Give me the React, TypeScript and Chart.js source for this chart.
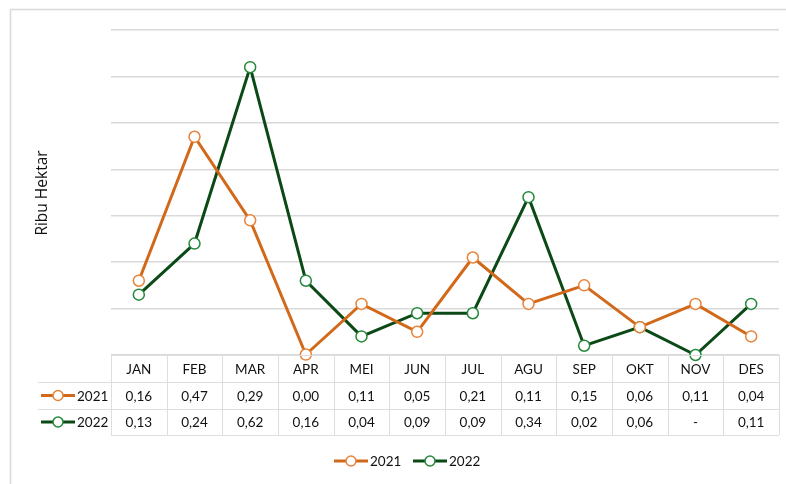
import React, { useEffect, useRef } from "react";
import { Chart, registerables } from "chart.js";

Chart.register(...registerables);

const months = ["JAN", "FEB", "MAR", "APR", "MEI", "JUN", "JUL", "AGU", "SEP", "OKT", "NOV", "DES"];
const series2021 = [0.16, 0.47, 0.29, 0.001, 0.11, 0.05, 0.21, 0.11, 0.15, 0.06, 0.11, 0.04];
const series2022 = [0.13, 0.24, 0.62, 0.16, 0.04, 0.09, 0.09, 0.34, 0.02, 0.06, 0, 0.11];
const seriesNames = ["2021", "2022"];
const yTitle = "Ribu Hektar";

const ORANGE = "#D2691A";
const ORANGE_MK = "#E8833A";
const GREEN = "#0B4A16";
const GREEN_MK = "#23893A";
const FONT = "Lato, 'Open Sans', sans-serif";

const fmt = (v: number) => (v === 0 ? "-" : v.toFixed(2).replace(".", ","));

const drawLegendKey = (ctx: CanvasRenderingContext2D, x0: number, x1: number, y: number, line: string, mk: string) => {
  ctx.save();
  ctx.strokeStyle = line;
  ctx.lineWidth = 3;
  ctx.beginPath();
  ctx.moveTo(x0, y);
  ctx.lineTo(x1, y);
  ctx.stroke();
  ctx.beginPath();
  ctx.arc((x0 + x1) / 2, y, 5, 0, Math.PI * 2);
  ctx.fillStyle = "#fff";
  ctx.fill();
  ctx.lineWidth = 1.5;
  ctx.strokeStyle = mk;
  ctx.stroke();
  ctx.restore();
};

const tablePlugin = {
  id: "tablePlugin",
  afterDraw(chart: any) {
    const ctx: CanvasRenderingContext2D = chart.ctx;
    const xs = chart.scales.x;
    const area = chart.chartArea;
    const left = area.left;
    const right = area.right;
    const top = area.bottom;
    const r1 = top + 27;
    const r2 = top + 54;
    const bottom = top + 80;
    const legLeft = 38;

    ctx.save();
    // outer frame
    ctx.strokeStyle = "#d9d9d9";
    ctx.lineWidth = 1.5;
    ctx.beginPath();
    ctx.moveTo(10.5, 490);
    ctx.lineTo(10.5, 9.5);
    ctx.lineTo(790, 9.5);
    ctx.stroke();

    // table lines
    ctx.strokeStyle = "#dedede";
    ctx.lineWidth = 1;
    ctx.beginPath();
    ctx.moveTo(left, top + 0.5);
    ctx.lineTo(right, top + 0.5);
    ctx.moveTo(legLeft, r1 + 0.5);
    ctx.lineTo(right, r1 + 0.5);
    ctx.moveTo(legLeft, r2 + 0.5);
    ctx.lineTo(right, r2 + 0.5);
    ctx.moveTo(left, bottom + 0.5);
    ctx.lineTo(right, bottom + 0.5);
    const step = (right - left) / months.length;
    for (let i = 0; i <= months.length; i++) {
      const x = Math.round(left + i * step) + 0.5;
      ctx.moveTo(x, top);
      ctx.lineTo(x, bottom);
    }
    ctx.stroke();

    ctx.fillStyle = "#111";
    ctx.font = "13.5px " + FONT;
    ctx.textAlign = "center";
    ctx.textBaseline = "middle";
    months.forEach((m, i) => {
      const x = xs.getPixelForValue(i);
      ctx.fillText(m, x, (top + r1) / 2 + 1);
      ctx.fillText(fmt(series2021[i]), x, (r1 + r2) / 2 + 1);
      ctx.fillText(fmt(series2022[i]), x, (r2 + bottom) / 2 + 1);
    });

    // row legends
    drawLegendKey(ctx, 41, 75, (r1 + r2) / 2, ORANGE, ORANGE_MK);
    drawLegendKey(ctx, 41, 75, (r2 + bottom) / 2, GREEN, GREEN_MK);
    ctx.fillStyle = "#111";
    ctx.textAlign = "left";
    ctx.fillText(seriesNames[0], 77, (r1 + r2) / 2 + 1);
    ctx.fillText(seriesNames[1], 77, (r2 + bottom) / 2 + 1);

    // bottom legend
    const ly = 461;
    drawLegendKey(ctx, 334, 368, ly, ORANGE, ORANGE_MK);
    ctx.fillStyle = "#111";
    ctx.fillText(seriesNames[0], 370, ly + 1);
    drawLegendKey(ctx, 413, 447, ly, GREEN, GREEN_MK);
    ctx.fillStyle = "#111";
    ctx.fillText(seriesNames[1], 449, ly + 1);

    // y title
    ctx.save();
    ctx.translate(43, 193);
    ctx.rotate(-Math.PI / 2);
    ctx.textAlign = "center";
    ctx.font = "15.5px 'Open Sans', sans-serif";
    ctx.fillStyle = "#111";
    ctx.fillText(yTitle, 0, 0);
    ctx.restore();

    ctx.restore();
  },
};

export default function App() {
  const ref = useRef<HTMLCanvasElement>(null);
  useEffect(() => {
    if (!ref.current) return;
    const chart = new Chart(ref.current, {
      type: "line",
      data: {
        labels: months,
        datasets: [
          {
            label: seriesNames[0],
            data: series2021,
            borderColor: ORANGE,
            borderWidth: 3,
            pointRadius: 5.5,
            pointBackgroundColor: "#fff",
            pointBorderColor: ORANGE_MK,
            pointBorderWidth: 1.5,
            tension: 0,
          },
          {
            label: seriesNames[1],
            data: series2022,
            borderColor: GREEN,
            borderWidth: 3,
            pointRadius: 5.5,
            pointBackgroundColor: "#fff",
            pointBorderColor: GREEN_MK,
            pointBorderWidth: 1.5,
            tension: 0,
          },
        ],
      },
      options: {
        responsive: false,
        animation: false,
        clip: false,
        layout: { padding: { left: 111, right: 7, top: 30, bottom: 129 } },
        plugins: { legend: { display: false }, tooltip: { enabled: false } },
        scales: {
          x: { display: false, offset: true },
          y: {
            min: 0,
            max: 0.7,
            ticks: { display: false, stepSize: 0.1 },
            border: { display: false },
            grid: { color: "#d9d9d9", lineWidth: 1.5, drawTicks: false },
          },
        },
      },
      plugins: [tablePlugin],
    });
    return () => chart.destroy();
  }, []);
  return (
    <div style={{ position: "absolute", left: 0, top: 0, width: 786, height: 484, background: "#fff" }}>
      <canvas ref={ref} width={786} height={484} />
    </div>
  );
}
